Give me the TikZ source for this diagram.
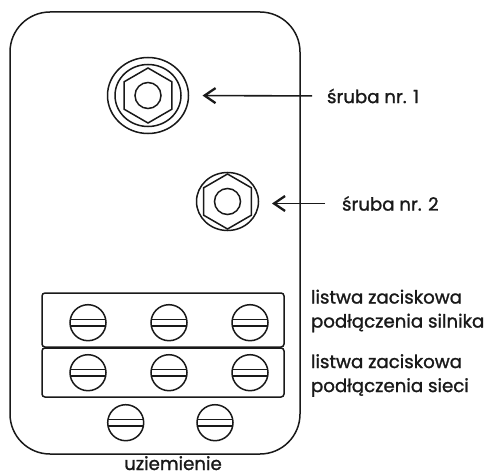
\documentclass[tikz,border=0pt]{standalone}
\usepackage{fontspec}
\setmainfont{Poppins}[FakeBold=1.3]
\usetikzlibrary{arrows.meta,shapes.geometric}
\tikzset{
  every picture/.style={x=1pt,y=-1pt},
  ln/.style={line width=1.5pt,draw=black!90},
  ring/.style={ln,ellipse,inner sep=0pt,outer sep=0pt},
  hexa/.style={ln,regular polygon,regular polygon sides=6,shape border rotate=30,minimum size=55pt,inner sep=0pt,outer sep=0pt},
  hole/.style={ln,circle,minimum size=26pt,inner sep=0pt,outer sep=0pt},
  lab/.style={anchor=west,inner sep=0pt,outer sep=0pt,font=\fontsize{18.2pt}{24pt}\selectfont,text=black!90,align=left},
  pointer/.style={draw=black!90,line width=1.6pt,-{Straight Barb[length=11pt,width=15pt,line width=2.3pt]}},
  strip/.style={ln,rounded corners=3pt},
  terminal/.pic={
    \draw[ln] (0,0) circle (18);
    \draw[ln] (-17.7,-3.3) -- (17.7,-3.3) (-17.7,3.3) -- (17.7,3.3);
  }
}
\begin{document}
\begin{tikzpicture}
\useasboundingbox (0,0) rectangle (489,473);
\draw[ln,rounded corners=40pt] (10,12) rectangle (300,454);
% screw 1
\node[ring,minimum width=81pt,minimum height=76pt] (s1) at (148,95.5) {};
\node[ring,minimum width=66pt,minimum height=62pt] (s1b) at (148,95.5) {};
\node[hexa] (h1) at (148,95.5) {};
\node[hole] (c1) at (148,95.5) {};
% screw 2
\node[ring,minimum width=62pt,minimum height=58pt] (s2) at (227.5,201.5) {};
\node[hexa] (h2) at (227.5,201.5) {};
\node[hole] (c2) at (227.5,201.5) {};
% labels
\node[lab] (l1) at (327,96) {śruba nr. 1};
\node[lab] (l2) at (342,203.5) {śruba nr. 2};
\node[lab] (l3) at (311,311) {listwa zaciskowa\\podłączenia silnika};
\node[lab] (l4) at (311,375.5) {listwa zaciskowa\\podłączenia sieci};
\node[anchor=base,inner sep=0pt,font=\fontsize{18.2pt}{24pt}\selectfont,text=black!90] (l5) at (173,470) {uziemienie};
% arrows
\draw[pointer,shorten <=15pt,shorten >=14pt] (l1.west) -- (s1.east);
\coordinate (a2) at (272,203.5);
\draw[pointer,shorten <=17pt] (l2.west) -- (a2);
% strips
\draw[strip] (42,293) rectangle (284,347);
\draw[strip] (42,348) rectangle (284,397);
\foreach \x in {88,169,250} {
  \pic at (\x,322.7) {terminal};
  \pic at (\x,372.7) {terminal};
}
\pic at (125.7,422.7) {terminal};
\pic at (215,422.7) {terminal};
\end{tikzpicture}
\end{document}
